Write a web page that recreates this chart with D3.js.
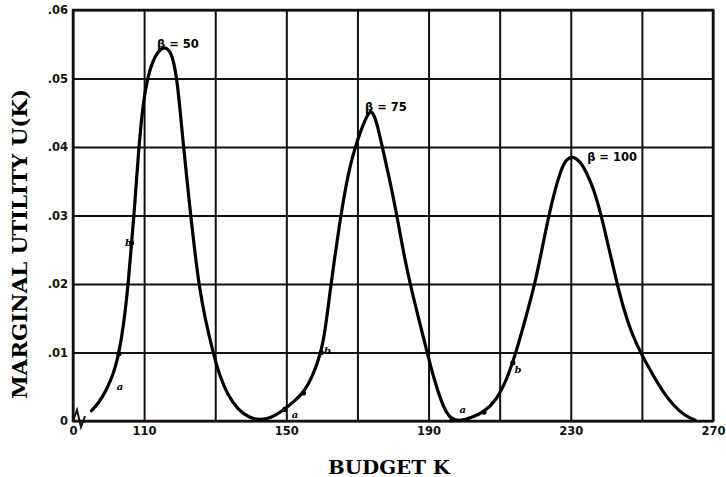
<!DOCTYPE html>
<html>
<head>
<meta charset="utf-8">
<script src="https://cdn.jsdelivr.net/npm/d3@7"></script>
<style>
  body { margin: 0; background: #fff; }
  svg { display: block; }
  .grid line { stroke: #111; stroke-width: 2; }
  .grid path { display: none; }
  .tick text { font-family: "DejaVu Sans", sans-serif; font-weight: bold; font-size: 11.5px; fill: #111; }
</style>
</head>
<body>
<div id="chart"></div>
<script>
// data
const budget = [95.2, 97.3, 99.3, 101.3, 102.6, 103.7, 104.7, 105.6, 106.4, 107.3, 108.3, 109.2, 110.0, 110.8, 111.6,
  112.5, 113.4, 114.5, 115.8, 117.2, 118.2, 119.2, 120.1, 121.1, 122.1, 123.1, 124.2, 125.4, 127.1, 129.4, 131.3,
  133.5, 136.5, 139.5, 142.5, 146, 149.5, 152, 154.8, 157.4, 159.8, 161, 162.2, 163.5, 164.9, 166.3, 167.8, 169.4,
  170.8, 172.2, 173.1, 173.8, 174.6, 175.6, 177.0, 179.0, 181.1, 182.8, 184.8, 187.2, 189.6, 191.6, 193.5, 195,
  196.6, 199, 202, 205.6, 209, 212, 214.6, 217.3, 219.9, 221.8, 223.8, 225.7, 227.1, 228.3, 230.2, 232.7, 234.3,
  236.4, 238.6, 240.8, 242.9, 244.9, 247.1, 249.8, 253, 256, 259, 262, 265];
const utility = [.0015, .0027, .0044, .0068, .0092, .0122, .0160, .0205, .0255, .0310, .0385, .0438, .0472, .0495, .0512,
  .0525, .0535, .0542, .0546, .0541, .0527, .0500, .0455, .0400, .0350, .0300, .0250, .0200, .0150, .0100, .0065,
  .0038, .0016, .0005, .0001, .0005, .0017, .0028, .0041, .0065, .0100, .0135, .0185, .0235, .0285, .0330, .0370, .0400,
  .0422, .0440, .0449, .0452, .0448, .0432, .0400, .0354, .0300, .0250, .0200, .0150, .0100, .0060, .0030, .0012,
  .0002, .0, .0005, .0013, .0030, .0060, .0100, .0150, .0200, .0248, .0300, .0340, .0364, .0379, .0388, .0379, .0364,
  .0340, .0300, .0250, .0203, .0163, .0128, .0098, .0068, .0042, .0022, .0008, .0001];

const xTicks = [90, 110, 130, 150, 170, 190, 210, 230, 250, 270];
const xTickLabels = {90: "0", 110: "110", 150: "150", 190: "190", 230: "230", 270: "270"};
const yTicks = [0, .01, .02, .03, .04, .05, .06];
const yTickLabels = ["0", ".01", ".02", ".03", ".04", ".05", ".06"];

// peak labels and the little hand marks on the curve
const peakLabels = [
  {x: 113.6, y: .0545, text: "\u03b2 = 50"},
  {x: 172.1, y: .0453, text: "\u03b2 = 75"},
  {x: 234.6, y: .0380, text: "\u03b2 = 100"}
];
const marks = [
  {x: 102.9, y: .0098, label: "a", lx: 102.3, ly: .0045},
  {x: 106.5, y: .0260, label: "b", lx: 104.6, ly: .0255},
  {x: 149.5, y: .0017, label: "a", lx: 151.5, ly: .0004},
  {x: 154.8, y: .0041, label: "", lx: 0, ly: 0},
  {x: 159.8, y: .0100, label: "b", lx: 160.6, ly: .0098},
  {x: 196.6, y: .0002, label: "a", lx: 198.7, ly: .0012},
  {x: 205.6, y: .0013, label: "", lx: 0, ly: 0},
  {x: 213.7, y: .0085, label: "b", lx: 214.2, ly: .0070}
];

const svgWidth = 726;
const svgHeight = 477;
const margin = {top: 10, right: 13, bottom: 56, left: 73};
const width = svgWidth - margin.left - margin.right;
const height = svgHeight - margin.top - margin.bottom;

const svg = d3.select("#chart").append("svg")
  .attr("width", svgWidth)
  .attr("height", svgHeight);

const chartGroup = svg.append("g")
  .attr("transform", `translate(${margin.left}, ${margin.top})`);

const x = d3.scaleLinear().domain([90, 270]).range([0, width]);
const y = d3.scaleLinear().domain([0, .06]).range([height, 0]);

// grid + tick labels
chartGroup.append("g")
  .attr("class", "grid")
  .attr("transform", `translate(0, ${height})`)
  .call(d3.axisBottom(x).tickValues(xTicks).tickSize(-height).tickPadding(6)
    .tickFormat(d => xTickLabels[d] || ""));

chartGroup.append("g")
  .attr("class", "grid")
  .call(d3.axisLeft(y).tickValues(yTicks).tickSize(-width).tickPadding(5)
    .tickFormat((d, i) => yTickLabels[i]));

// frame
chartGroup.append("rect")
  .attr("width", width)
  .attr("height", height)
  .attr("fill", "none")
  .attr("stroke", "#111")
  .attr("stroke-width", 2.5);

// axis break zigzag at the origin
const x0 = x(90), y0 = y(0);
chartGroup.append("path")
  .attr("d", `M${x0},${y0} L${x0 + 4},${y0 - 11} L${x0 + 8},${y0 + 6} L${x0 + 12},${y0 - 5}`)
  .attr("fill", "none")
  .attr("stroke", "#111")
  .attr("stroke-width", 2);

// the curve (basis spline smooths out the hand-read wobble)
const line = d3.line()
  .x((d, i) => x(budget[i]))
  .y((d, i) => y(utility[i]))
  .curve(d3.curveBasis);

chartGroup.append("path")
  .datum(utility)
  .attr("d", line)
  .attr("fill", "none")
  .attr("stroke", "#000")
  .attr("stroke-width", 3.2)
  .attr("stroke-linecap", "round")
  .attr("stroke-linejoin", "round");

// marks on the curve
chartGroup.selectAll(".mark")
  .data(marks)
  .enter()
  .append("circle")
  .attr("cx", d => x(d.x))
  .attr("cy", d => y(d.y))
  .attr("r", 2.6)
  .attr("fill", "#000");

chartGroup.selectAll(".marklabel")
  .data(marks.filter(d => d.label))
  .enter()
  .append("text")
  .attr("x", d => x(d.lx))
  .attr("y", d => y(d.ly))
  .attr("font-family", "DejaVu Serif, serif")
  .attr("font-style", "italic")
  .attr("font-weight", "bold")
  .attr("font-size", 10)
  .text(d => d.label);

chartGroup.selectAll(".peaklabel")
  .data(peakLabels)
  .enter()
  .append("text")
  .attr("x", d => x(d.x))
  .attr("y", d => y(d.y))
  .attr("font-family", "DejaVu Sans, sans-serif")
  .attr("font-weight", "bold")
  .attr("font-size", 11.5)
  .text(d => d.text);

// axis titles
svg.append("text")
  .attr("x", 389)
  .attr("y", 474)
  .attr("text-anchor", "middle")
  .attr("font-family", "DejaVu Serif, serif")
  .attr("font-weight", "bold")
  .attr("font-size", 18.5)
  .attr("textLength", 122)
  .attr("lengthAdjust", "spacingAndGlyphs")
  .text("BUDGET K");

svg.append("text")
  .attr("transform", "translate(27, 244) rotate(-90)")
  .attr("text-anchor", "middle")
  .attr("font-family", "DejaVu Serif, serif")
  .attr("font-weight", "bold")
  .attr("font-size", 21)
  .attr("textLength", 310)
  .attr("lengthAdjust", "spacingAndGlyphs")
  .text("MARGINAL UTILITY U(K)");
</script>
</body>
</html>
